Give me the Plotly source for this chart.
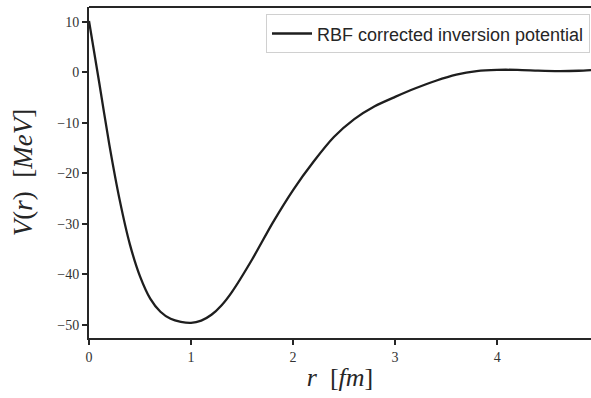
import plotly.graph_objects as go

r_fm = [0.0, 0.1, 0.2, 0.3, 0.4, 0.5, 0.6, 0.7, 0.8, 0.9, 1.0, 1.1, 1.2, 1.3,
        1.4, 1.6, 1.8, 2.0, 2.2, 2.4, 2.6, 2.8, 3.0, 3.2, 3.4, 3.6, 3.8, 4.0,
        4.2, 4.4, 4.6, 4.8, 4.92]
V_mev = [10.2, -2.0, -14.4, -25.2, -34.0, -40.4, -44.8, -47.4, -48.8, -49.4, -49.6,
         -49.15, -48.0, -46.1, -43.5, -37.0, -29.8, -23.3, -17.7, -12.8, -9.25,
         -6.7, -4.85, -3.15, -1.65, -0.45, 0.25, 0.5, 0.5, 0.36, 0.27, 0.33, 0.45]
x_ticks = [0, 1, 2, 3, 4]
y_ticks = [10, 0, -10, -20, -30, -40, -50]
series_name = "RBF corrected inversion potential"

ink = "#262626"
serif = "Liberation Serif, DejaVu Serif, serif"

def lab(v):
    return str(v) if v >= 0 else "\u2212" + str(-v)

fig = go.Figure()
fig.add_trace(go.Scatter(
    x=r_fm, y=V_mev, mode="lines", name=series_name,
    line=dict(color="#1e1e1e", width=2.3, shape="spline", smoothing=0.7),
))

fig.update_layout(
    width=591, height=398,
    margin=dict(l=89, r=0, t=7, b=60),
    plot_bgcolor="white", paper_bgcolor="white",
    showlegend=True,
    legend=dict(
        x=0.998, y=0.978, xanchor="right", yanchor="top",
        bgcolor="white", bordercolor="#d0d0d0", borderwidth=1,
        itemwidth=40,
        font=dict(family="Liberation Sans, Arial, sans-serif", size=18, color=ink),
    ),
    xaxis=dict(
        range=[0, 4.92], tickvals=x_ticks, ticktext=[lab(v) for v in x_ticks],
        showgrid=False, zeroline=False,
        showline=True, linecolor=ink, linewidth=2,
        ticks="outside", ticklen=5, tickwidth=1.5, tickcolor=ink,
        tickfont=dict(family=serif, size=14, color="#333333"),
        title=dict(text="<i>r</i>  [<i>fm</i>]", standoff=4,
                   font=dict(family=serif, size=26, color=ink)),
    ),
    yaxis=dict(
        range=[-52.6, 12.95], tickvals=y_ticks, ticktext=[lab(v) for v in y_ticks],
        showgrid=False, zeroline=False,
        showline=True, linecolor=ink, linewidth=2,
        ticks="outside", ticklen=5, tickwidth=1.5, tickcolor=ink,
        tickfont=dict(family=serif, size=14, color="#333333"),
        title=dict(text="<i>V</i>(<i>r</i>)  [<i>MeV</i>]", standoff=17,
                   font=dict(family=serif, size=27, color=ink)),
    ),
    shapes=[dict(type="line", xref="paper", yref="paper", x0=0, x1=1, y0=1, y1=1,
                 line=dict(color=ink, width=2))],
)

fig.write_html("out.html")
